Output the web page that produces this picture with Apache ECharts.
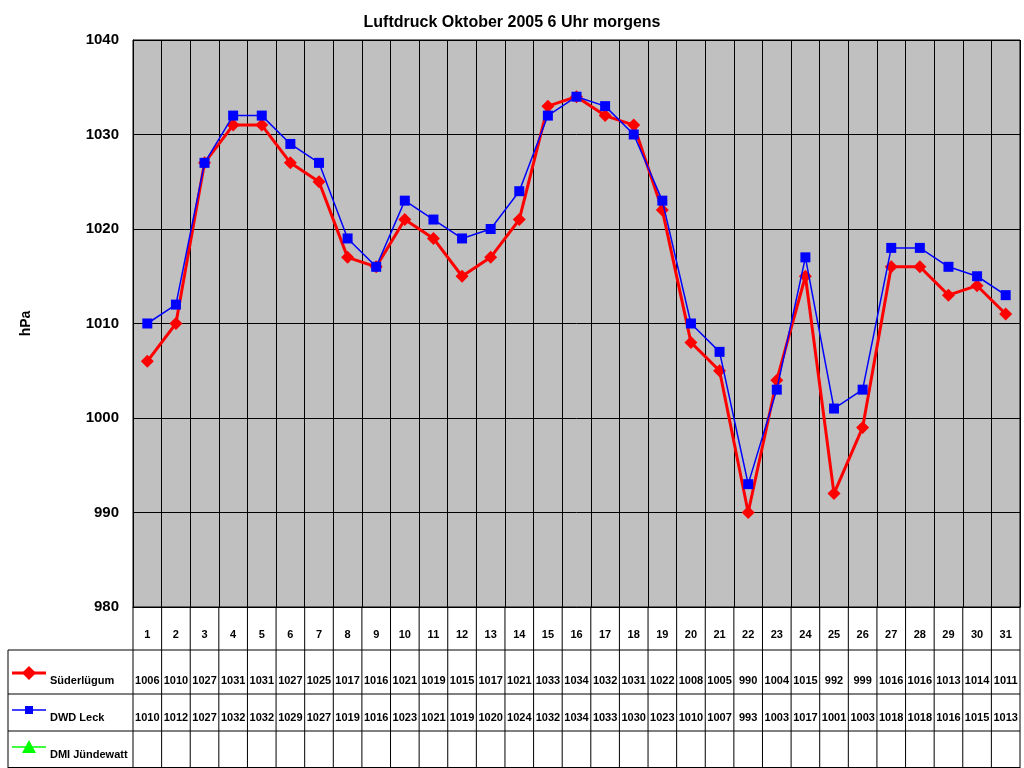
<!DOCTYPE html>
<html><head><meta charset="utf-8">
<script src="https://cdn.jsdelivr.net/npm/echarts@6/dist/echarts.min.js"></script>
<style>html,body{margin:0;background:#fff}#c{width:1024px;height:768px}</style></head>
<body><div id="c"></div>
<script>
const days = Array.from({length:31},(_,i)=>String(i+1));
const suederluegum = [1006,1010,1027,1031,1031,1027,1025,1017,1016,1021,1019,1015,1017,1021,1033,1034,1032,1031,1022,1008,1005,990,1004,1015,992,999,1016,1016,1013,1014,1011];
const dwdLeck = [1010,1012,1027,1032,1032,1029,1027,1019,1016,1023,1021,1019,1020,1024,1032,1034,1033,1030,1023,1010,1007,993,1003,1017,1001,1003,1018,1018,1016,1015,1013];
const dmiJuendewatt = [];
const seriesNames = ['Süderlügum','DWD Leck','DMI Jündewatt'];
const colors = ['#ff0000','#0000ff','#00ff00'];
const symbols = ['diamond','rect','triangle'];
const allData = [suederluegum, dwdLeck, dmiJuendewatt];

const chart = echarts.init(document.getElementById('c'));
const L=133,R=1020,T=40,B=607;
chart.setOption({
  animation:false,
  title:{text:'Luftdruck Oktober 2005 6 Uhr morgens',left:'center',top:10,textStyle:{fontFamily:'Arial, Liberation Sans',fontSize:16,fontWeight:'bold',color:'#000'}},
  grid:{left:L,top:T,width:R-L,height:B-T,backgroundColor:'#c0c0c0',show:true,borderColor:'#000',borderWidth:1},
  xAxis:{type:'category',data:days,boundaryGap:true,
    axisLine:{lineStyle:{color:'#000'}},axisTick:{show:false},
    splitLine:{show:true,interval:0,lineStyle:{color:'#000',width:1}},
    axisLabel:{interval:0,margin:22,fontFamily:'Arial, Liberation Sans',fontSize:11,fontWeight:'bold',color:'#000'}},
  yAxis:{type:'value',min:980,max:1040,interval:10,
    name:'hPa',nameLocation:'middle',nameGap:100,nameRotate:90,
    nameTextStyle:{fontFamily:'Arial, Liberation Sans',fontSize:14,fontWeight:'bold',color:'#000'},
    axisLine:{show:true,lineStyle:{color:'#000'}},axisTick:{show:false},
    splitLine:{lineStyle:{color:'#000',width:1}},
    axisLabel:{margin:14,formatter:v=>String(v),fontFamily:'Arial, Liberation Sans',fontSize:15,fontWeight:'bold',color:'#000'}},
  series:[
    {name:seriesNames[0],type:'line',data:suederluegum,symbol:'diamond',symbolSize:13,itemStyle:{color:colors[0]},lineStyle:{color:colors[0],width:3},z:2},
    {name:seriesNames[1],type:'line',data:dwdLeck,symbol:'rect',symbolSize:10,itemStyle:{color:colors[1]},lineStyle:{color:colors[1],width:1.5},z:3}
  ]
});

const rowTop=[650,694,731], rowBot=[694,731,768];
const g=[];
const ln=(x1,y1,x2,y2)=>g.push({type:'line',shape:{x1,y1,x2,y2},style:{stroke:'#000',lineWidth:1},silent:true});
const step=(R-L)/days.length;
for(let i=0;i<=days.length;i++){const x=L+i*step; ln(x,B,x,768);}
ln(8,650,8,768);
rowTop.forEach(y=>ln(8,y,R,y));
ln(8,767.5,R,767.5);
const font='bold 11px Arial, Liberation Sans';
for(let s=0;s<3;s++){
  const ty=rowBot[s]-13;
  g.push({type:'line',shape:{x1:12,y1:ty-8,x2:46,y2:ty-8},style:{stroke:colors[s],lineWidth:s===0?3:1.5}});
  const sym={diamond:{type:'polygon',shape:{points:[[29,ty-15],[36,ty-8],[29,ty-1],[22,ty-8]]}},
    rect:{type:'rect',shape:{x:25,y:ty-12,width:8,height:8}},
    triangle:{type:'polygon',shape:{points:[[29,ty-15],[36,ty-2],[22,ty-2]]}}}[symbols[s]];
  sym.style={fill:colors[s]}; g.push(sym);
  g.push({type:'text',x:50,y:ty,style:{text:seriesNames[s],font,fill:'#000',textVerticalAlign:'middle'}});
  allData[s].forEach((v,i)=>{
    const x=chart.convertToPixel({xAxisIndex:0},days[i]);
    g.push({type:'text',x,y:ty,style:{text:String(v),font,fill:'#000',textAlign:'center',textVerticalAlign:'middle'}});
  });
}
chart.setOption({graphic:g});
</script></body></html>
